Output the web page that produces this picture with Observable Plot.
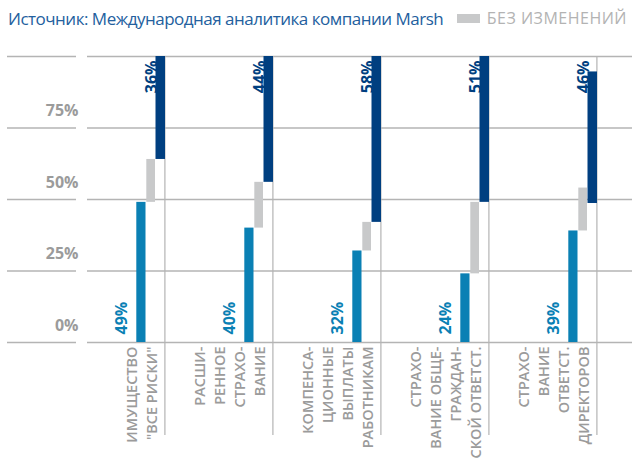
<!DOCTYPE html>
<html>
<head>
<meta charset="utf-8">
<script src="https://cdn.jsdelivr.net/npm/d3@7"></script>
<script src="https://cdn.jsdelivr.net/npm/@observablehq/plot@0.6"></script>
<style>
  html, body { margin: 0; padding: 0; background: #fff; }
  #wrap { position: relative; width: 632px; height: 461px; overflow: hidden; font-family: "Open Sans", sans-serif; }
  #title { position: absolute; left: 8px; top: 7px; font-size: 17px; letter-spacing: -0.5px; color: #23609e; white-space: nowrap; line-height: 23px; }
  #legend { position: absolute; right: 5px; top: 7px; font-size: 16px; letter-spacing: 0.5px; color: #b3b3b3; white-space: nowrap; display: flex; align-items: center; line-height: 23px; }
  #legend .sw { display: inline-block; width: 23px; height: 9px; background: #c8c9ca; margin-right: 7px; flex: none; }
  #chart { position: absolute; left: 0; top: 0; }
</style>
</head>
<body>
<div id="wrap">
  <div id="chart"></div>
  <div id="title">Источник: Международная аналитика компании Marsh</div>
  <div id="legend"><span class="sw"></span><span>БЕЗ ИЗМЕНЕНИЙ</span></div>
</div>
<script>
const categories = [
  "ИМУЩЕСТВО\n\"ВСЕ РИСКИ\"",
  "РАСШИ-\nРЕННОЕ\nСТРАХО-\nВАНИЕ",
  "КОМПЕНСА-\nЦИОННЫЕ\nВЫПЛАТЫ\nРАБОТНИКАМ",
  "СТРАХО-\nВАНИЕ ОБЩЕ-\nГРАЖДАН-\nСКОЙ ОТВЕТСТ.",
  "СТРАХО-\nВАНИЕ\nОТВЕТСТ.\nДИРЕКТОРОВ"
];
const increase = [49, 40, 32, 24, 39];
const unchanged = [15, 16, 10, 25, 15];
const decrease = [36, 44, 58, 51, 46];
const decreaseBase = [64, 56, 42, 49, 48.6];
const yTicks = [0, 25, 50, 75];
const gridTicks = [0, 25, 50, 75, 100];

const rows = categories.map((c, i) => ({
  cat: c,
  inc: increase[i],
  unch: unchanged[i],
  dec: decrease[i],
  decBase: decreaseBase[i]
}));

const LIGHT = "#0a80b4";
const DARK = "#003f80";
const GREY = "#c8c9ca";
const LINE = "#b4b4b4";
const TXT = "#9b9b9b";

const marginLeft = 54, marginRight = 34;
const bw = (632 - marginLeft - marginRight) / categories.length;
const half = bw / 2;

const chart = Plot.plot({
  width: 632,
  height: 461,
  marginTop: 56,
  marginBottom: 119,
  marginLeft,
  marginRight,
  style: { fontFamily: "Open Sans, sans-serif", background: "transparent", overflow: "visible" },
  x: { type: "band", domain: categories, padding: 0, axis: null },
  y: { domain: [0, 100], axis: null },
  marks: [
    Plot.ruleY(gridTicks, { y: d => d, stroke: LINE, strokeWidth: 1.4, insetLeft: 33, insetRight: -34 }),
    Plot.ruleY(gridTicks, { y: d => d, stroke: LINE, strokeWidth: 1.4, insetLeft: -47, insetRight: 522 }),
    Plot.ruleX(categories, { x: d => d, dx: half, stroke: LINE, strokeWidth: 1.2, insetBottom: -93 }),
    Plot.barY(rows, { x: "cat", y1: 0, y2: "inc", fill: LIGHT, insetLeft: bw - 28.5, insetRight: 18.5 }),
    Plot.barY(rows, { x: "cat", y1: "inc", y2: d => d.inc + d.unch, fill: GREY, insetLeft: bw - 18.5, insetRight: 9 }),
    Plot.barY(rows, { x: "cat", y1: "decBase", y2: d => d.decBase + d.dec, fill: DARK, insetLeft: bw - 9.3, insetRight: -1 }),
    Plot.text(yTicks, { y: d => d, text: d => d + "%", frameAnchor: "left", textAnchor: "end", dx: 24, dy: -17, fill: TXT, fontSize: 16, fontWeight: "bold", style: "letter-spacing:1.2px" }),
    Plot.text(rows, { x: "cat", text: d => d.dec + "%", frameAnchor: "top", rotate: -90, textAnchor: "end", dx: half - 19.5, dy: 4, fill: DARK, fontSize: 16, fontWeight: "bold", style: "letter-spacing:0.6px" }),
    Plot.text(rows, { x: "cat", text: d => d.inc + "%", frameAnchor: "bottom", rotate: -90, textAnchor: "start", dx: half - 38, dy: -8, fill: LIGHT, fontSize: 16, fontWeight: "bold", style: "letter-spacing:0.6px" }),
    Plot.text(categories, { x: d => d, text: d => d, frameAnchor: "bottom", rotate: -90, textAnchor: "end", lineAnchor: "bottom", lineHeight: 20 / 14.5, dx: half - 7.5, dy: 4, fill: TXT, fontSize: 14.5, fontWeight: 600, style: "letter-spacing:0.15px" })
  ]
});
document.getElementById("chart").appendChild(chart);
</script>
</body>
</html>
